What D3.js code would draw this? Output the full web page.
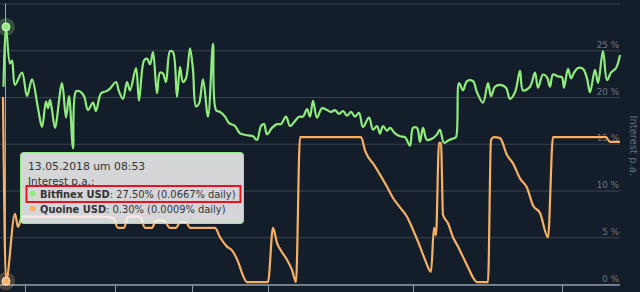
<!DOCTYPE html>
<html>
<head>
<meta charset="utf-8">
<script src="https://cdn.jsdelivr.net/npm/d3@7"></script>
<style>
  html, body { margin: 0; padding: 0; background: #141e2a; }
  svg { display: block; font-family: "DejaVu Sans", Verdana, sans-serif; }
</style>
</head>
<body>
<div id="chart"></div>
<script>
// days since the hovered point (13.05.2018 08:53)
const bitfinexDays = [-0.5, 0, 0.8, 1.2, 1.8, 3.2, 4.2, 5.2, 6.4, 7.2, 8.0, 8.4, 8.8, 9.2, 9.8, 11.2, 12.0, 12.6, 13.4, 14.0,
  14.8, 15.6, 16.4, 17.4, 18.0, 19.0, 20.0, 20.8, 22.0, 22.6, 23.4, 24.2, 24.8, 26.0, 26.6, 27.6, 28.2, 28.8, 29.4, 30.2,
  30.8, 31.4, 32.0, 32.8, 33.4, 34.2, 34.8, 35.4, 36.0, 36.8, 37.4, 38.0, 38.6, 39.4, 40.4, 41.4, 42.0, 42.8, 43.8, 44.6,
  45.8, 46.8, 48.4, 49.4, 50.2, 51.0, 51.6, 52.2, 53.2, 54.2, 55.0, 56.0, 56.8, 57.6, 58.6, 59.4, 60.2, 60.8, 61.4, 62.2,
  63.2, 64.2, 65.0, 65.8, 66.6, 67.4, 68.2, 69.0, 69.8, 70.6, 71.4, 72.6, 73.4, 74.2, 74.8, 75.4, 76.2, 76.8, 77.8, 78.8,
  79.8, 80.8, 81.4, 82.2, 82.8, 83.4, 84.2, 85.4, 86.2, 86.8, 87.6, 88.6, 89.6, 90.0, 90.6, 91.4, 92.2, 93.4, 94.2, 95.4,
  96.4, 97.0, 97.8, 98.8, 100.0, 100.8, 101.8, 102.8, 103.4, 104.8, 105.8, 106.4, 107.4, 108.2, 108.8, 109.4, 110.4, 111.2, 111.6, 112.4,
  113.0, 113.6, 114.4, 115.4, 116.2, 116.8, 117.8, 118.4, 119.4, 120.2, 121.0, 122.0, 122.8];
const bitfinexRates = [21.1, 27.5, 23.6, 23.9, 21.3, 22.6, 20.1, 21.9, 18.8, 16.8, 19.5, 18.8, 19.7, 18.6, 16.7, 21.5, 17.8, 20.1, 14.5, 20.6,
  20.6, 20.1, 18.6, 19.4, 18.5, 20.4, 20.6, 20.9, 21.6, 20.6, 19.8, 21.6, 20.7, 23.1, 19.6, 23.9, 24.1, 23.5, 24.8, 20.4,
  22.6, 22.5, 21.6, 24.9, 24.8, 20.0, 23.2, 21.6, 22.0, 25.2, 22.9, 19.0, 19.3, 21.9, 17.9, 25.7, 18.6, 18.4, 17.9, 17.2,
  16.9, 16.1, 15.9, 15.8, 15.4, 16.9, 17.1, 16.0, 16.7, 17.1, 17.1, 17.9, 16.9, 17.3, 17.9, 17.9, 18.7, 17.9, 19.6, 17.8,
  18.8, 18.6, 18.4, 18.6, 18.2, 18.5, 18.0, 18.4, 17.9, 18.3, 16.8, 17.8, 16.5, 16.9, 16.1, 16.9, 16.4, 16.7, 16.1, 15.8,
  15.7, 14.8, 16.7, 16.7, 15.2, 16.7, 15.4, 15.6, 16.0, 16.5, 15.1, 15.4, 15.6, 15.7, 21.5, 20.7, 21.7, 21.7, 20.5, 19.4,
  21.5, 20.1, 21.1, 21.3, 21.0, 19.8, 20.5, 22.8, 20.7, 21.1, 22.6, 21.0, 22.4, 22.1, 21.1, 22.4, 22.2, 22.1, 21.0, 23.0,
  22.0, 22.6, 23.1, 23.0, 22.0, 20.5, 22.9, 21.5, 24.9, 21.8, 22.6, 23.1, 24.5];

const quoineDays = [-0.6, 0, 1.8, 2.4, 3.2, 6.8, 12.8, 18.8, 21.4, 22.4, 23.6, 24.4, 26.8, 27.8, 29.2, 30.0, 31.6, 32.8, 34.0, 34.8,
  36.0, 36.8, 41.8, 42.8, 44.2, 45.2, 46.4, 47.4, 48.2, 52.4, 53.4, 54.2, 55.2, 56.2, 57.2, 58.0, 58.8, 71.0, 71.8, 72.4,
  73.4, 74.8, 76.2, 77.4, 78.8, 80.2, 81.4, 82.8, 83.8, 85.0, 85.6, 86.0, 86.6, 87.0, 87.4, 88.4, 89.4, 90.4, 91.4, 92.4,
  93.4, 94.2, 96.4, 97.0, 97.6, 98.8, 100.2, 101.4, 102.8, 104.2, 105.4, 106.8, 108.4, 109.4, 120.0, 120.8, 122.8];
const quoineRates = [20.0, 0.3, 7.5, 6.1, 7.2, 7.2, 7.2, 7.2, 7.1, 6.0, 6.0, 7.2, 7.2, 6.0, 6.0, 6.8, 6.8, 6.0, 6.0, 6.6,
  6.6, 6.0, 6.0, 5.0, 4.0, 3.6, 2.4, 0.9, 0.2, 0.2, 6.0, 4.4, 3.4, 2.6, 1.5, 0.2, 15.7, 15.7, 14.3, 13.6,
  12.9, 11.7, 10.4, 9.2, 8.2, 7.2, 5.8, 4.0, 2.6, 1.3, 6.0, 5.2, 15.1, 15.1, 7.4, 6.5, 5.0, 4.0, 2.9, 1.8,
  0.7, 0.2, 0.2, 15.4, 15.7, 15.6, 13.8, 12.9, 11.3, 10.3, 8.4, 7.6, 5.0, 15.7, 15.7, 15.2, 15.2];

const yTicks = [0, 5, 10, 15, 20, 25, 30];
const yLabelTicks = [0, 5, 10, 15, 20, 25];
const xTickDays = [3.8, 21.8, 37.2, 52.4, 81.4, 111.2];

const tooltipDate = "13.05.2018 um 08:53";
const tooltipTitle = "Interest p.a.:";
const seriesNames = ["Bitfinex USD", "Quoine USD"];
const hoverRates = [27.5, 0.3];
const hoverDaily = [0.0667, 0.0009];
const seriesColors = ["#90ed7d", "#f7b064"];

const width = 640, height = 292;
const plotLeft = 0, plotRight = 620, plotTop = 3.5, plotBottom = 284;

const svg = d3.select("#chart").append("svg")
  .attr("width", width)
  .attr("height", height);

svg.append("rect").attr("width", width).attr("height", height).attr("fill", "#141e2a");

const x = d3.scaleLinear().domain([0, 122.8]).range([6, plotRight]);
const y = d3.scaleLinear().domain([0, 30]).range([plotBottom, plotTop]);

// horizontal grid
const grid = svg.append("g")
  .attr("transform", `translate(${plotRight},0)`)
  .call(d3.axisRight(y).tickValues(yTicks).tickSize(-(plotRight - plotLeft)).tickFormat(""));
grid.select(".domain").remove();
grid.selectAll("line").attr("stroke", "#38444f").attr("stroke-width", 1.2);

// y labels (right, above the lines)
svg.append("g").selectAll("text")
  .data(yLabelTicks)
  .join("text")
  .attr("x", plotRight - 1)
  .attr("y", (d) => y(d) - 2.5)
  .attr("text-anchor", "end")
  .attr("fill", "#6c7680")
  .style("font-size", "8.8px")
  .text((d) => `${d} %`);

svg.append("text")
  .attr("transform", `translate(630,${(plotTop + plotBottom) / 2 + 2}) rotate(90)`)
  .attr("text-anchor", "middle")
  .attr("fill", "#66707a")
  .style("font-size", "10px")
  .text("Interest p.a.");

// bottom axis
const xAxis = svg.append("g")
  .attr("transform", `translate(0,${plotBottom + 1})`)
  .call(d3.axisBottom(x).tickValues(xTickDays).tickSize(8).tickFormat(""));
xAxis.select(".domain").remove();
xAxis.selectAll("line").attr("stroke", "#8d9aa8");
xAxis.append("line")
  .attr("x1", plotLeft).attr("x2", plotRight)
  .attr("stroke", "#8d9aa8").attr("stroke-width", 1.5);

// crosshair
svg.append("line")
  .attr("x1", x(0) - 0.5).attr("x2", x(0) - 0.5)
  .attr("y1", plotTop).attr("y2", plotBottom)
  .attr("stroke", "#c8ccd0").attr("stroke-width", 1).attr("opacity", 0.8);

const curves = [d3.curveCatmullRom.alpha(0.5), d3.curveMonotoneX];

const seriesData = [
  d3.zip(bitfinexDays, bitfinexRates),
  d3.zip(quoineDays, quoineRates),
];

[1, 0].forEach((i) => {
  const line = d3.line()
    .x((d) => x(d[0]))
    .y((d) => y(d[1]))
    .curve(curves[i]);
  svg.append("path")
    .datum(seriesData[i])
    .attr("fill", "none")
    .attr("stroke", seriesColors[i])
    .attr("stroke-width", 2.2)
    .attr("stroke-linejoin", "round")
    .attr("d", line);
});

// hover markers
hoverRates.forEach((r, i) => {
  svg.append("circle")
    .attr("cx", x(0)).attr("cy", y(r)).attr("r", 9)
    .attr("fill", seriesColors[i]).attr("opacity", 0.25);
  svg.append("circle")
    .attr("cx", x(0)).attr("cy", y(r)).attr("r", 4)
    .attr("fill", seriesColors[i]).attr("stroke", "#fff").attr("stroke-width", 0.8);
});

// tooltip
const tip = svg.append("g").attr("transform", "translate(20.5,152.5)");
tip.append("rect")
  .attr("width", 223).attr("height", 71).attr("rx", 3)
  .attr("fill", "rgba(247,247,247,0.85)")
  .attr("stroke", seriesColors[0]).attr("stroke-width", 1);
tip.append("text").attr("x", 7.5).attr("y", 17.5)
  .attr("fill", "#333").style("font-size", "10.8px").text(tooltipDate);
tip.append("text").attr("x", 7.5).attr("y", 32.5)
  .attr("fill", "#333").style("font-size", "10.4px").text(tooltipTitle);

seriesNames.forEach((name, i) => {
  const row = tip.append("g").attr("transform", `translate(0,${41 + i * 15})`);
  row.append("circle").attr("cx", 12.2).attr("cy", 0).attr("r", 3)
    .attr("fill", seriesColors[i]);
  const t = row.append("text").attr("x", 19.5).attr("y", 4)
    .attr("fill", "#333").style("font-size", "9.9px");
  t.append("tspan").style("font-weight", "bold").text(name);
  t.append("tspan").text(`: ${hoverRates[i].toFixed(2)}% (${hoverDaily[i].toFixed(4)}% daily)`);
});

tip.append("rect")
  .attr("x", 6).attr("y", 33.5).attr("width", 214).attr("height", 16)
  .attr("fill", "none").attr("stroke", "#e8141c").attr("stroke-width", 2);
</script>
</body>
</html>
